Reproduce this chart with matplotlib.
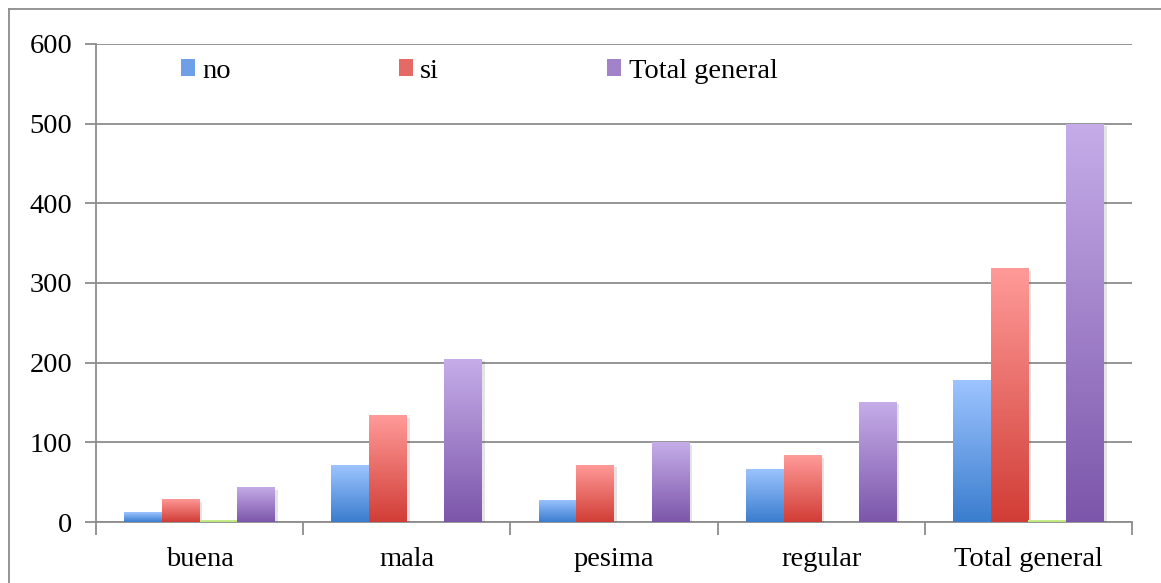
import numpy as np
import matplotlib.pyplot as plt
from matplotlib.colors import LinearSegmentedColormap
from matplotlib.patches import Patch
from matplotlib.lines import Line2D
import matplotlib.patheffects as pe

# --- data ---
categories = ['buena', 'mala', 'pesima', 'regular', 'Total general']
no_vals = [12, 71, 28, 67, 178]
si_vals = [29, 134, 72, 84, 319]
blank_vals = [3, 0, 0, 0, 3]
total_vals = [44, 205, 100, 151, 500]

series_names = ['no', 'si', '(en blanco)', 'Total general']
series_vals = [no_vals, si_vals, blank_vals, total_vals]

# (top colour, bottom colour) for each series gradient
grad_colors = [
    ('#9dc4ff', '#3a7dce'),
    ('#ff9b99', '#d13d36'),
    ('#d6f59c', '#b8e47a'),
    ('#c6ade9', '#7c56aa'),
]

plt.rcParams['font.family'] = ['Liberation Serif', 'DejaVu Serif']
FS = 20.5

fig = plt.figure(figsize=(11.61, 5.83), dpi=100)
ax = fig.add_axes([96 / 1161, 1 - 522 / 583, (1132 - 96) / 1161, (522 - 44) / 583])

n_cat = len(categories)
n_ser = len(series_vals)
bw = 1 / (n_ser + 1.5)
x = np.arange(n_cat)

grad = np.linspace(1, 0, 256).reshape(-1, 1)
for i, (vals, (top_c, bot_c)) in enumerate(zip(series_vals, grad_colors)):
    offs = (i - (n_ser - 1) / 2) * bw
    cmap = LinearSegmentedColormap.from_list('g%d' % i, [bot_c, top_c])
    bars = ax.bar(x + offs, vals, width=bw, color=bot_c, linewidth=0, zorder=3,
                  path_effects=[pe.SimplePatchShadow(offset=(2, -2), alpha=0.12),
                                pe.Normal()])
    for b, v in zip(bars, vals):
        if v <= 0:
            continue
        x0 = b.get_x()
        im = ax.imshow(grad, cmap=cmap, aspect='auto', zorder=4,
                       extent=(x0, x0 + bw, 0, v), interpolation='bilinear')
        im.set_clip_path(b)

ax.set_xlim(-0.5, n_cat - 0.5)
ax.set_ylim(0, 600)

grid_c = '#8c8c8c'
ax.set_yticks(np.arange(0, 601, 100))
ax.yaxis.grid(True, color=grid_c, linewidth=1.3, zorder=0)
ax.set_axisbelow(True)

ax.set_xticks(x)
ax.set_xticklabels(categories)
ax.set_xticks(np.arange(-0.5, n_cat, 1), minor=True)
ax.tick_params(axis='x', which='major', length=0, pad=18, labelsize=FS)
ax.tick_params(axis='x', which='minor', length=9, width=1.3, color=grid_c, direction='out')
ax.tick_params(axis='y', length=8, width=1.3, color=grid_c, pad=9, labelsize=FS)

for side in ['top', 'right']:
    ax.spines[side].set_visible(False)
for side in ['left', 'bottom']:
    ax.spines[side].set_color(grid_c)
    ax.spines[side].set_linewidth(1.3)

# legend: the blank series is left out
handles = [Patch(facecolor='#6f9fe6', edgecolor='none'),
           Patch(facecolor='#e56a65', edgecolor='none'),
           Patch(facecolor='#a283c9', edgecolor='none')]
fig.legend(handles, ['no', 'si', 'Total general'], ncol=3, frameon=False,
           loc='center left', bbox_to_anchor=(181 / 1161, 1 - 71 / 583),
           fontsize=FS, handlelength=0.5, handleheight=0.5, handletextpad=0.25,
           columnspacing=5.9, borderpad=0, borderaxespad=0)

# outer chart border (top and left edges)
fig.add_artist(Line2D([9 / 1161, 1], [1 - 9 / 583, 1 - 9 / 583], color=grid_c, lw=1.3))
fig.add_artist(Line2D([9 / 1161, 9 / 1161], [0, 1 - 9 / 583], color=grid_c, lw=1.3))

fig.savefig('out.png', dpi=100)
